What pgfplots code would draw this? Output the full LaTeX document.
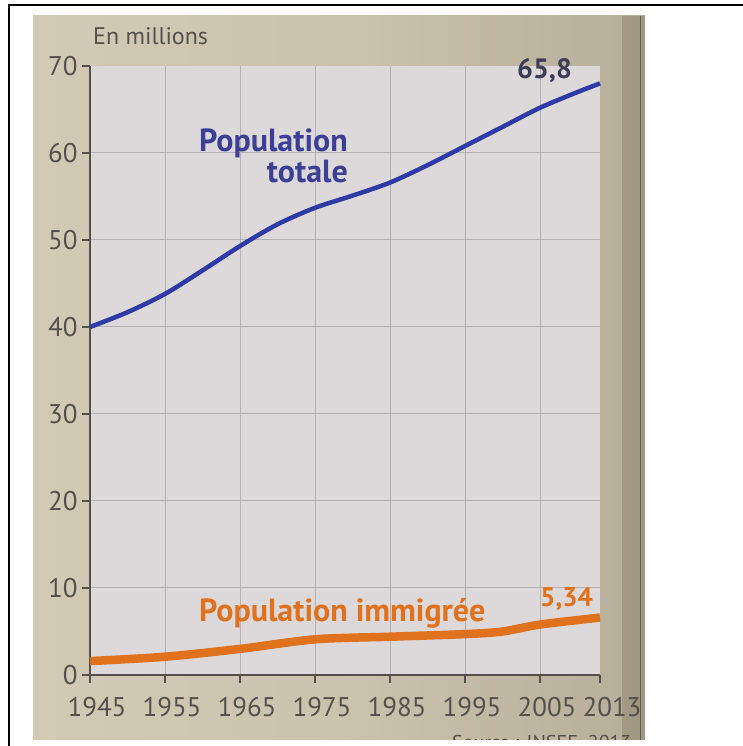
\documentclass[border=0pt]{standalone}
\usepackage{pgfplots}
\pgfplotsset{compat=1.18}
\usepackage{fontspec}
\setmainfont{PT Sans}

\definecolor{paperL}{HTML}{D3CAB6}
\definecolor{paperR}{HTML}{8E846F}
\definecolor{plotbg}{HTML}{DDD9DA}
\definecolor{gridc}{HTML}{B3B0B4}
\definecolor{inkgray}{HTML}{55504C}
\definecolor{totblue}{HTML}{2E3AA6}
\definecolor{immorange}{HTML}{E0711D}
\definecolor{lblblue}{HTML}{3B3F96}
\definecolor{lbldark}{HTML}{3E3D58}

\begin{document}
\begin{tikzpicture}
  % page frame (1px = 1pt, y measured from the bottom)
  \path[use as bounding box] (0pt,0pt) rectangle (742pt,746pt);
  \fill[white] (0pt,0pt) rectangle (742pt,746pt);
  \draw[black, line width=2.2pt] (9pt,-5pt) -- (9pt,741pt) -- (750pt,741pt);
  % photographed paper
  \shade[left color=paperL, right color=paperL!60!paperR, middle color=paperL!90!paperR]
    (33pt,6pt) rectangle (645pt,730pt);
  \fill[paperR, opacity=0.5] (622pt,6pt) rectangle (645pt,730pt);
  \draw[paperR!70!black, line width=1pt] (640pt,6pt) -- (640pt,730pt);

  \begin{axis}[
      at={(90pt,71pt)}, anchor=south west,
      scale only axis,
      width=510pt, height=609pt,
      xmin=1945, xmax=2013,
      ymin=0, ymax=70,
      axis lines*=left,
      axis line style={inkgray, line width=1.4pt},
      axis background/.style={fill=plotbg},
      xtick={1945,1955,1965,1975,1985,1995,2005},
      extra x ticks={2013},
      extra x tick style={grid=none, xticklabel style={xshift=5pt}},
      ytick={0,10,...,60},
      extra y ticks={70},
      extra y tick style={grid=none},
      tick align=outside,
      major tick length=8pt,
      tick style={inkgray, line width=1.2pt},
      grid=major,
      grid style={gridc, line width=1pt},
      /pgf/number format/assume math mode=true,
      /pgf/number format/1000 sep={},
      tick label style={text=inkgray},
      xticklabel style={font=\fontsize{27}{29}\selectfont, yshift=-11pt, xshift=7pt},
      yticklabel style={font=\fontsize{27}{29}\selectfont, xshift=-1pt},
      clip=false,
    ]
    \addplot[totblue, line width=4.5pt, smooth, tension=0.5] coordinates {
      (1945,40.0) (1950,41.7) (1955,43.8) (1960,46.5) (1965,49.3) (1970,51.8)
      (1975,53.7) (1980,55.1) (1985,56.6) (1990,58.6) (1995,60.8) (2000,63.0)
      (2005,65.2) (2010,67.0) (2013,68.0)
    };
    \addplot[immorange, line width=8.5pt, smooth, tension=0.5] coordinates {
      (1945,1.6) (1955,2.1) (1965,3.0) (1975,4.1) (1985,4.4) (1995,4.7)
      (2000,5.0) (2005,5.8) (2013,6.6)
    };
  \end{axis}

  % texts
  \node[anchor=base west, inner sep=0, text=inkgray, font=\fontsize{24}{26}\selectfont]
    at (93pt,701pt) {En millions};
  \node[anchor=base west, inner sep=0, text=lblblue, font=\bfseries\fontsize{32}{34}\selectfont]
    at (199pt,594pt) {Population};
  \node[anchor=base east, inner sep=0, text=lblblue, font=\bfseries\fontsize{32}{34}\selectfont]
    at (348pt,563pt) {totale};
  \node[anchor=base west, inner sep=0, text=immorange, font=\bfseries\fontsize{32}{34}\selectfont]
    at (199pt,124pt) {Population immigrée};
  \node[anchor=base west, inner sep=0, text=lbldark, font=\bfseries\fontsize{28}{30}\selectfont]
    at (517pt,667pt) {65,8};
  \node[anchor=base west, inner sep=0, text=immorange, font=\bfseries\fontsize{27}{29}\selectfont]
    at (540pt,139pt) {5,34};
  \begin{scope}
    \clip (33pt,6pt) rectangle (645pt,730pt);
    \node[anchor=base west, inner sep=0, text=inkgray, font=\fontsize{20}{22}\selectfont]
      at (452pt,-3pt) {Source : INSEE, 2013};
  \end{scope}
\end{tikzpicture}
\end{document}
